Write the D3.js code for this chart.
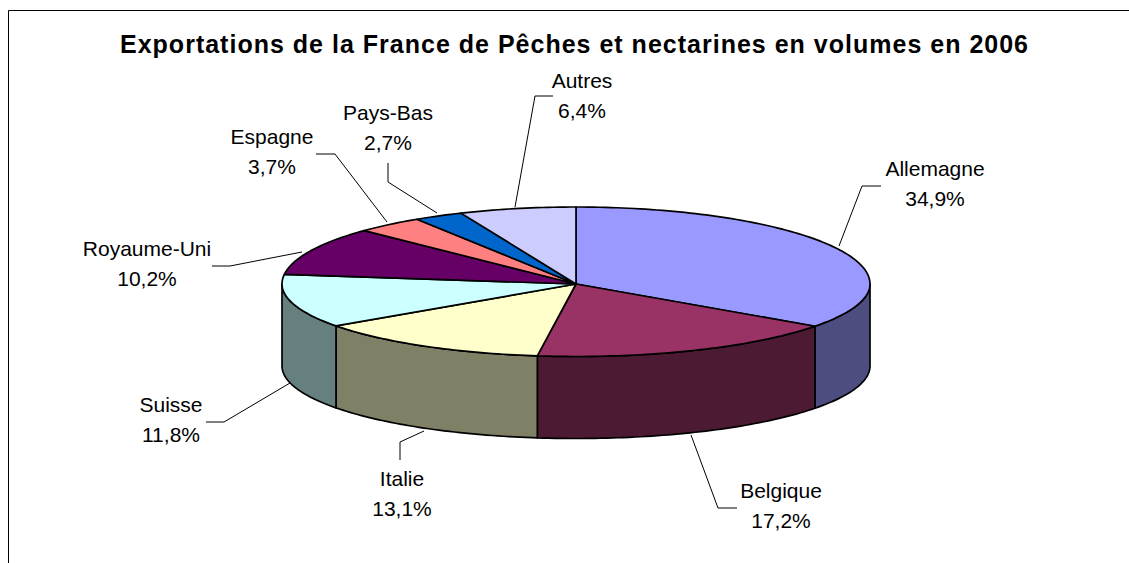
<!DOCTYPE html>
<html><head><meta charset="utf-8">
<script src="https://cdn.jsdelivr.net/npm/d3@7"></script>
<style>html,body{margin:0;padding:0;background:#fff}svg{display:block}text{font-family:"Liberation Sans",Arial,sans-serif;fill:#000}</style>
</head><body><svg id="c" width="1129" height="563"></svg>
<script>
const categories=["Allemagne","Belgique","Italie","Suisse","Royaume-Uni","Espagne","Pays-Bas","Autres"];
const values=[34.9,17.2,13.1,11.8,10.2,3.7,2.7,6.4];
const topColors=["#9999ff","#993366","#ffffcc","#ccffff","#660066","#ff8080","#0066cc","#ccccff"];
const sideColors=["#4d4d80","#4d1a33","#808066","#668080","#330033","#804040","#003366","#666680"];
const labelPos=[[935,176],[781,498],[402,486],[171,412],[147,256],[272,144],[388,120],[582,88]];
const leaders=[[[881,186],[862,186],[839,246]],[[737,508],[718,508],[691,435]],[[400,460],[400,442],[424,431]],[[206,422],[224,422],[290,383]],[[212,266],[230,266],[302,252]],[[316,154],[335,154],[387,222]],[[388,163],[388,182],[437,213]],[[553,96],[535,96],[515,207]]];
const cx=576,cy=284,rx=294,ryTop=77,ryBottom=72.5,depth=82;
const svg=d3.select("#c");
const fmt=v=>v.toFixed(1).replace(".",",")+"%";
svg.append("path").attr("d",d3.line()([[8.5,563],[8.5,10.5],[1129,10.5]])).attr("fill","none").attr("stroke","#000");
svg.append("text").attr("x",574).attr("y",53).attr("text-anchor","middle").attr("font-size",25).attr("font-weight","bold").attr("textLength",908).attr("lengthAdjust","spacing").text("Exportations de la France de Pêches et nectarines en volumes en 2006");
const pie=d3.pie().sort(null).value(d=>d)(values);
const px=d3.scaleLinear().domain([-1,1]).range([cx-rx,cx+rx]);
const py=d3.scaleLinear().domain([-1,0,1]).range([cy-ryTop,cy,cy+ryBottom]);
const X=a=>px(Math.sin(a)),Y=a=>py(-Math.cos(a));
function samples(a0,a1){const n=Math.max(2,Math.ceil((a1-a0)/0.02));return d3.range(n+1).map(i=>a0+(a1-a0)*i/n);}
const line=d3.line();
const g=svg.append("g").attr("stroke","#000").attr("stroke-width",1.7).attr("stroke-linejoin","round");
pie.forEach((d,i)=>{
  const a0=Math.max(d.startAngle,Math.PI/2),a1=Math.min(d.endAngle,3*Math.PI/2);
  if(a1<=a0)return;
  const s=samples(a0,a1);
  const pts=s.map(a=>[X(a),Y(a)]).concat(s.slice().reverse().map(a=>[X(a),Y(a)+depth]));
  g.append("path").attr("d",line(pts)+"Z").attr("fill",sideColors[i]);
});
pie.forEach((d,i)=>{
  const pts=[[cx,cy]].concat(samples(d.startAngle,d.endAngle).map(a=>[X(a),Y(a)]));
  g.append("path").attr("d",line(pts)+"Z").attr("fill",topColors[i]);
});
leaders.forEach(l=>svg.append("path").attr("d",line(l)).attr("fill","none").attr("stroke","#000").attr("stroke-width",1));
categories.forEach((c,i)=>{
  const t=svg.append("text").attr("text-anchor","middle").attr("font-size",21);
  t.append("tspan").attr("x",labelPos[i][0]).attr("y",labelPos[i][1]).text(c);
  t.append("tspan").attr("x",labelPos[i][0]).attr("y",labelPos[i][1]+30).text(fmt(values[i]));
});
</script></body></html>
